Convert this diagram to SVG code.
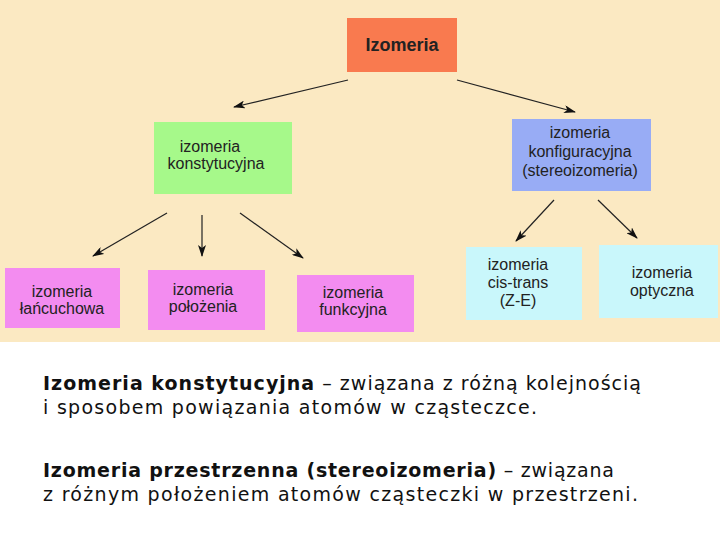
<svg xmlns="http://www.w3.org/2000/svg" width="720" height="540" viewBox="0 0 720 540">
<defs>
<marker id="ah" markerWidth="12" markerHeight="8" refX="11" refY="4" orient="auto" markerUnits="userSpaceOnUse"><path d="M0,0 L12,4 L0,8 L3,4 Z" fill="#111"/></marker>
</defs>
<style>
.n text{font-family:"Liberation Sans",Arial,sans-serif;font-size:16px;fill:#222;text-anchor:middle}
.c line{stroke:#222;stroke-width:1.2;marker-end:url(#ah)}
.b{font-family:"DejaVu Sans",sans-serif;font-size:19px;fill:#111}
</style>
<rect x="0" y="0" width="720" height="342" fill="#fbe9c2"/>
<rect x="0" y="342" width="720" height="198" fill="#fff"/>
<g id="izomeria" class="n"><rect x="347" y="18" width="110" height="54" fill="#f97a4f"/><text x="402" y="51" style="font-weight:bold;font-size:18px">Izomeria</text></g>
<g id="konstytucyjna" class="n"><rect x="154" y="122" width="138" height="72" fill="#a6f98a"/><text x="210" y="152">izomeria</text><text x="216" y="169">konstytucyjna</text></g>
<g id="konfiguracyjna" class="n"><rect x="512" y="119" width="139" height="72" fill="#98acf5"/><text x="580" y="138">izomeria</text><text x="580" y="157">konfiguracyjna</text><text x="580" y="176">(stereoizomeria)</text></g>
<g id="lancuchowa" class="n"><rect x="5" y="268" width="115" height="60" fill="#f38cf0"/><text x="62" y="297">izomeria</text><text x="62" y="314">łańcuchowa</text></g>
<g id="polozenia" class="n"><rect x="148" y="270" width="117" height="60" fill="#f38cf0"/><text x="203" y="295">izomeria</text><text x="203" y="312">położenia</text></g>
<g id="funkcyjna" class="n"><rect x="297" y="275" width="117" height="57" fill="#f38cf0"/><text x="353" y="298">izomeria</text><text x="353" y="315">funkcyjna</text></g>
<g id="cistrans" class="n"><rect x="466" y="247" width="116" height="73" fill="#c9f7fb"/><text x="518" y="270">izomeria</text><text x="518" y="288">cis-trans</text><text x="518" y="306">(Z-E)</text></g>
<g id="optyczna" class="n"><rect x="599" y="245" width="119" height="73" fill="#c9f7fb"/><text x="662" y="278">izomeria</text><text x="662" y="296">optyczna</text></g>
<g id="connectors" class="c">
<line x1="348" y1="80" x2="234" y2="107"/>
<line x1="457" y1="80" x2="575" y2="112"/>
<line x1="167" y1="213" x2="93" y2="256"/>
<line x1="202" y1="215" x2="202" y2="256"/>
<line x1="240" y1="213" x2="303" y2="258"/>
<line x1="554" y1="200" x2="516" y2="241"/>
<line x1="598" y1="200" x2="637" y2="238"/>
</g>
<text class="b" x="43" y="390" textLength="598" lengthAdjust="spacing"><tspan font-weight="bold">Izomeria konstytucyjna</tspan> – związana z różną kolejnością</text>
<text class="b" x="43" y="414" textLength="494" lengthAdjust="spacing">i sposobem powiązania atomów w cząsteczce.</text>
<text class="b" x="43" y="477" textLength="571" lengthAdjust="spacing"><tspan font-weight="bold">Izomeria przestrzenna (stereoizomeria)</tspan> – związana</text>
<text class="b" x="43" y="501" textLength="595" lengthAdjust="spacing">z różnym położeniem atomów cząsteczki w przestrzeni.</text>
</svg>
